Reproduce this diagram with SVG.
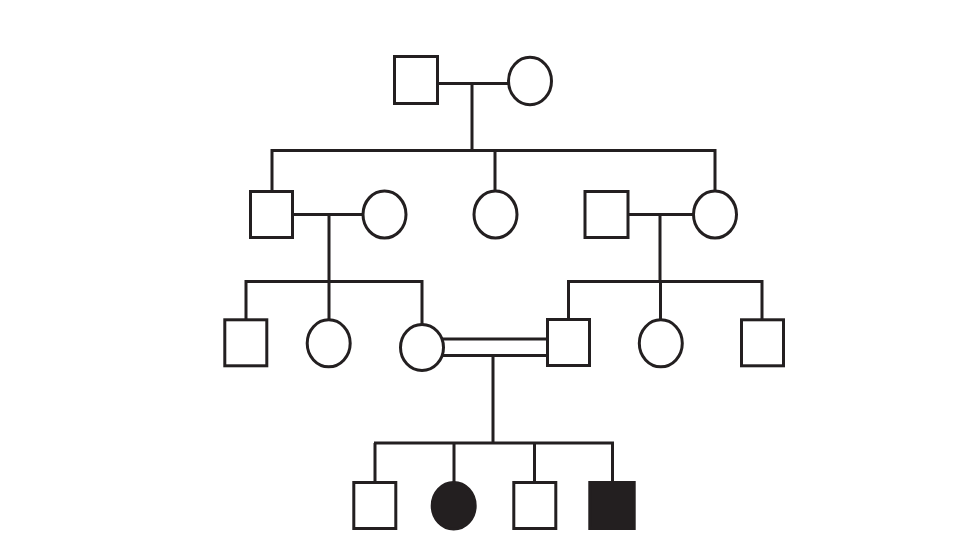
<svg xmlns="http://www.w3.org/2000/svg" width="960" height="540" viewBox="0 0 960 540">
<style>
.ln{stroke:#231f20;stroke-width:3;fill:none;stroke-linecap:butt}
.m{fill:#fff;stroke:#231f20;stroke-width:3}
.f{fill:#231f20;stroke:#231f20;stroke-width:3}
</style>
<rect width="960" height="540" fill="#fff"/>
<g id="connectors" class="ln">
<path d="M439,83.5H508M472,83.5V150.5M270.5,150.5H716.5M272,150.5V191M495,150.5V191M715,150.5V191"/>
<path d="M293,214.5H363M329,214.5V281.5M628,214.5H694M660,214.5V281.5"/>
<path d="M244.5,281.5H423.5M246,281.5V319M329,281.5V320M422,281.5V324M567,281.5H763.5M568.5,281.5V319M660.5,281.5V320M762,281.5V319"/>
<path d="M442,339H547M442,355.5H547M493,355.5V443M374,443H614M375,443V482M454,443V482M534.5,443V482M612.5,443V482"/>
</g>
<g id="gen1-father"><rect class="m" x="394.5" y="56.5" width="43" height="47"/></g>
<g id="gen1-mother"><ellipse class="m" cx="530" cy="81" rx="21.5" ry="23.8"/></g>
<g id="gen2-son"><rect class="m" x="250.5" y="191.5" width="42" height="46"/></g>
<g id="gen2-son-wife"><ellipse class="m" cx="384.5" cy="214.5" rx="21.5" ry="23.5"/></g>
<g id="gen2-daughter"><ellipse class="m" cx="495.5" cy="214.5" rx="21.5" ry="23.5"/></g>
<g id="gen2-daughter-husband"><rect class="m" x="585" y="191.5" width="43" height="46"/></g>
<g id="gen2-daughter2"><ellipse class="m" cx="715" cy="214.5" rx="21.5" ry="23.5"/></g>
<g id="gen3-l1"><rect class="m" x="224.8" y="319.8" width="42" height="46"/></g>
<g id="gen3-l2"><ellipse class="m" cx="328.7" cy="343.3" rx="21.5" ry="23.5"/></g>
<g id="gen3-l3"><ellipse class="m" cx="422" cy="347.5" rx="21.5" ry="23"/></g>
<g id="gen3-r1"><rect class="m" x="547.5" y="319.5" width="42" height="46"/></g>
<g id="gen3-r2"><ellipse class="m" cx="660.8" cy="343.3" rx="21.5" ry="23.5"/></g>
<g id="gen3-r3"><rect class="m" x="741.5" y="319.8" width="42" height="46"/></g>
<g id="gen4-1"><rect class="m" x="353.8" y="482.5" width="42" height="46"/></g>
<g id="gen4-2"><ellipse class="f" cx="453.7" cy="505.8" rx="21.5" ry="23.3"/></g>
<g id="gen4-3"><rect class="m" x="513.8" y="482.5" width="42" height="46"/></g>
<g id="gen4-4"><rect class="f" x="589.8" y="482.5" width="44.4" height="46"/></g>
</svg>
